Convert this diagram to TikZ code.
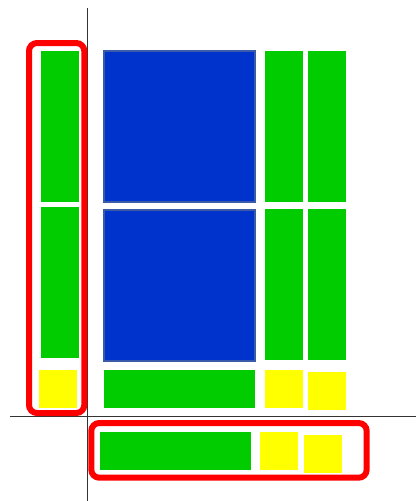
\documentclass[tikz,border=0pt]{standalone}
\definecolor{grn}{HTML}{00CC00}
\definecolor{ylw}{HTML}{FFFF00}
\definecolor{blu}{HTML}{0033CC}
\definecolor{bluedge}{HTML}{3A5CA8}
\definecolor{axis}{HTML}{333333}
\tikzset{
  gbox/.style={fill=grn},
  ybox/.style={fill=ylw},
  bbox/.style={fill=blu,draw=bluedge,line width=1.5pt},
  redframe/.style={draw=red,line width=4.5pt,rounded corners=6pt},
  axisline/.style={draw=axis,line width=0.9pt}
}
\begin{document}
\begin{tikzpicture}[x=0.75pt,y=-0.75pt]
\useasboundingbox (0,0) rectangle (416,501);
% axes
\draw[axisline] (87.5,8) -- (87.5,501);
\draw[axisline] (10,416.5) -- (416,416.5);
% left column
\fill[gbox] (41,51) rectangle (79,201.7);
\fill[gbox] (41,207) rectangle (79,357.7);
\fill[ybox] (39,370) rectangle (77,407.7);
\draw[redframe] (29,43) rectangle (84.3,413);
% blue blocks
\draw[bbox] (104.3,51.3) rectangle (255.3,202);
\draw[bbox] (104.3,210) rectangle (255.3,360.7);
\fill[gbox] (104,370) rectangle (255,407.7);
% right columns
\fill[gbox] (265,51) rectangle (303,201.7);
\fill[gbox] (308,51) rectangle (346,201.7);
\fill[gbox] (265,209) rectangle (303,359.7);
\fill[gbox] (308,209) rectangle (346,359.7);
\fill[ybox] (265,370) rectangle (303,407.7);
\fill[ybox] (308,372) rectangle (346,409.7);
% bottom row
\fill[gbox] (100,432) rectangle (251,469.7);
\fill[ybox] (260,432) rectangle (298,469.7);
\fill[ybox] (304,435) rectangle (342,473);
\draw[redframe] (91.3,423) rectangle (366.7,477.7);
\end{tikzpicture}
\end{document}
